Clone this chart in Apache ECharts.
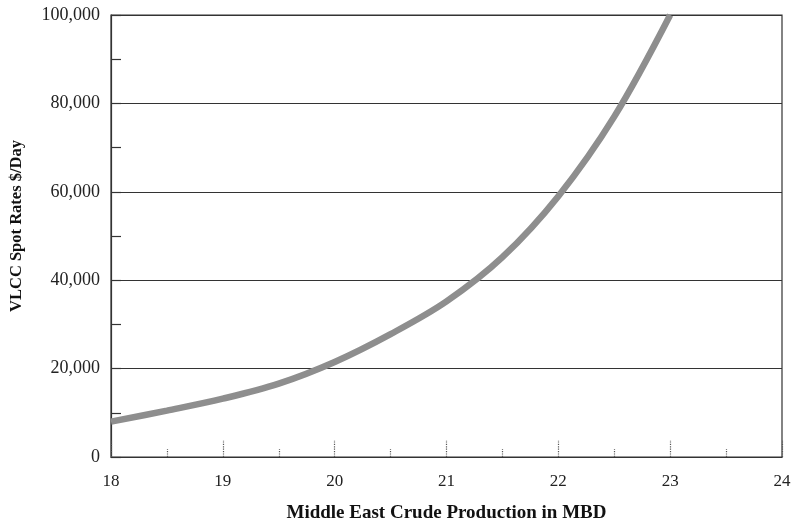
<!DOCTYPE html>
<html>
<head>
<meta charset="utf-8">
<script src="https://cdn.jsdelivr.net/npm/echarts@6/dist/echarts.min.js"></script>
<style>
  html, body { margin: 0; padding: 0; background: #fff; }
  #chart { width: 792px; height: 521px; }
</style>
</head>
<body>
<div id="chart"></div>
<script>
// Middle East crude output (MBD) against VLCC spot rates ($/day)
const production = [18, 18.5, 19, 19.5, 20, 20.5, 21, 21.5, 22, 22.5, 23];
const spotRates = [8000, 10500, 13200, 16600, 21500, 27800, 35200, 45200, 59000, 77000, 100000];

const xTitle = 'Middle East Crude Production in MBD';
const yTitle = 'VLCC Spot Rates $/Day';

const serif = '"Liberation Serif", "DejaVu Serif", serif';
const ink = '#333';

const chart = echarts.init(document.getElementById('chart'), null, { renderer: 'canvas' });

chart.setOption({
  animation: false,
  backgroundColor: '#fff',
  grid: {
    left: 111, right: 10, top: 15, bottom: 64,
    outerBoundsMode: 'none',
    containLabel: false,
    show: true, borderColor: ink, borderWidth: 1.2, backgroundColor: 'transparent'
  },
  xAxis: {
    type: 'value',
    min: 18, max: 24, interval: 1,
    name: xTitle,
    nameLocation: 'middle',
    nameGap: 47,
    nameTextStyle: { fontFamily: serif, fontWeight: 'bold', fontSize: 19, color: '#111' },
    axisLine: { show: true, onZero: false, lineStyle: { color: ink, width: 1.2 } },
    axisTick: { show: true, inside: true, length: 17, lineStyle: { color: '#555', type: 'dotted', width: 1.2 } },
    minorTick: { show: true, splitNumber: 2, length: 8, lineStyle: { color: '#555', type: 'dotted', width: 1.2 } },
    splitLine: { show: false },
    axisLabel: { fontFamily: serif, fontSize: 17, color: '#222', margin: 16 }
  },
  yAxis: {
    type: 'value',
    min: 0, max: 100000, interval: 20000,
    name: yTitle,
    nameLocation: 'middle',
    nameGap: 86,
    nameTextStyle: { fontFamily: serif, fontWeight: 'bold', fontSize: 16.5, color: '#111', padding: [0, 0, 0, 20] },
    axisLine: { show: true, onZero: false, lineStyle: { color: ink, width: 1.2 } },
    axisTick: { show: true, inside: true, length: 10, lineStyle: { color: ink, width: 1.2 } },
    minorTick: { show: true, splitNumber: 2, length: 10, lineStyle: { color: ink, width: 1.2 } },
    splitLine: { show: true, lineStyle: { color: ink, width: 1.2 } },
    axisLabel: {
      fontFamily: serif, fontSize: 18, color: '#222', margin: 11,
      formatter: v => v.toLocaleString('en-US')
    }
  },
  series: [{
    type: 'line',
    data: production.map((x, i) => [x, spotRates[i]]),
    smooth: 0.35,
    showSymbol: false,
    clip: true,
    lineStyle: { color: '#8e8e8e', width: 6.5 },
    z: 3
  }]
});
</script>
</body>
</html>
